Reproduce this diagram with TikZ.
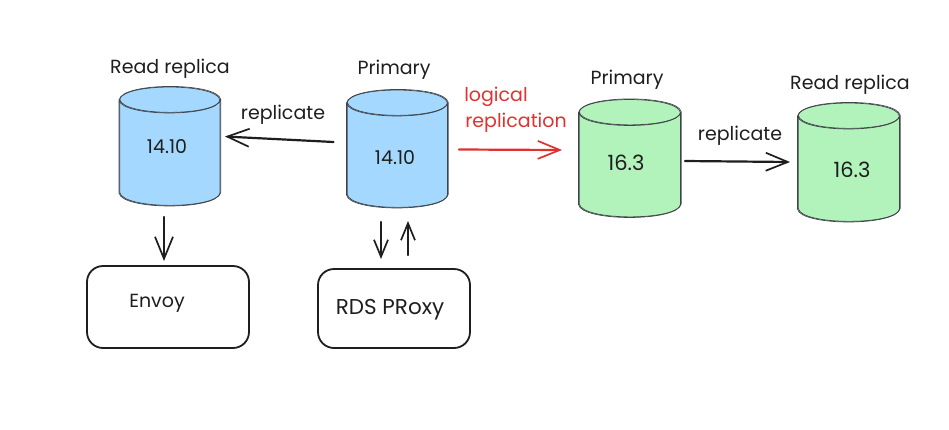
\documentclass[tikz,border=0pt]{standalone}
\usepackage{fontspec}
\setmainfont{Poppins}
\usetikzlibrary{arrows.meta}
\definecolor{inkc}{HTML}{1E1E1E}
\definecolor{linec}{HTML}{3F444A}
\definecolor{bluec}{HTML}{A5D8FF}
\definecolor{greenc}{HTML}{B2F2BB}
\definecolor{redc}{HTML}{E03131}
\tikzset{
  db/.style={inner sep=0pt,outer sep=0pt,minimum height=119pt},
  dbline/.style={draw=linec,line width=0.7pt,line join=round},
  txt/.style={text=inkc,font=\fontsize{19}{22}\selectfont,inner sep=0pt},
  redtxt/.style={txt,text=redc},
  svc/.style={draw=inkc,line width=1.8pt,rounded corners=16pt,inner sep=0pt,outer sep=0pt},
  arrow/.style={draw=inkc,line width=2.2pt,line cap=round,-{Straight Barb[length=22pt,width=18pt,line width=1.7pt]}},
  smallarrow/.style={draw=inkc,line width=2.2pt,line cap=round,-{Straight Barb[length=17pt,width=14pt,line width=1.7pt]}},
  redarrow/.style={arrow,draw=redc}
}
\newcommand{\dbfill}[2]{(0,13) .. controls (3,-4.3) and (#1-3,-4.3) .. (#1,13)
  -- (#1,#2-13) .. controls (#1-3,#2+4.3) and (3,#2+4.3) .. (0,#2-13) -- cycle}
\newcommand{\dbpath}[2]{(0,13) .. controls (3,-4.3) and (#1-3,-4.3) .. (#1,13)
  .. controls (#1-3,30.3) and (3,30.3) .. (0,13)
  -- (0,#2-13) .. controls (3,#2+4.3) and (#1-3,#2+4.3) .. (#1,#2-13) -- (#1,13)}
\newcommand{\dbshape}[4]{
  \begin{scope}[shift={(#1.north west)}]
    \fill[#2] \dbfill{#3}{#4};
    \draw[dbline] \dbpath{#3}{#4};
    \draw[dbline,xshift=0.7pt,yshift=0.6pt] \dbpath{#3}{#4};
  \end{scope}
}
\begin{document}
\begin{tikzpicture}[x=1pt,y=-1pt]
  \useasboundingbox (0,0) rectangle (949,429);
  \draw
    (169.5,146.5) node[db,minimum width=101pt] (old_replica){}
    (397,149.5) node[db,minimum width=101pt] (old_primary){}
    (629.5,159) node[db,minimum width=102pt] (new_primary){}
    (848.5,162.5) node[db,minimum width=102pt] (new_replica){};
  \dbshape{old_replica}{bluec}{101}{119}
  \dbshape{old_primary}{bluec}{101}{118}
  \dbshape{new_primary}{greenc}{102}{118}
  \dbshape{new_replica}{greenc}{102}{119}
  \draw
    (168,307) node[svc,minimum width=162pt,minimum height=82pt] (envoy){}
    (394,308.5) node[svc,minimum width=152pt,minimum height=79pt] (proxy){};
  \draw
    (170,69) node[txt] (l0){Read replica}
    (394,70) node[txt] (l1){Primary}
    (627,80) node[txt] (l2){Primary}
    (850,85) node[txt] (l3){Read replica}
    (167,147) node[txt] (v0){14.10}
    (395,158) node[txt] (v1){14.10}
    (626,163) node[txt,font=\fontsize{21}{24}\selectfont] (v2){16.3}
    (852,170) node[txt,font=\fontsize{21}{24}\selectfont] (v3){16.3}
    (283,115) node[txt] (r0){replicate}
    (740,136) node[txt] (r1){replicate}
    (496,97) node[redtxt] (r2){logical}
    (516,123) node[redtxt] (r3){replication}
    (157,303) node[txt] (e0){Envoy}
    (390,310) node[txt,font=\fontsize{21.5}{24}\selectfont] (p0){RDS PRoxy};
  \begin{scope}
    \draw[arrow] ([xshift=-13pt,yshift=7.5pt]old_primary.west) to ([xshift=5pt,yshift=10pt]old_replica.east);
    \draw[redarrow] ([xshift=11.5pt]old_primary.east) to ([xshift=-16.5pt,yshift=9pt]new_primary.west);
    \draw[arrow] ([xshift=4.5pt,yshift=-2pt]new_primary.east) to ([xshift=-7.5pt,yshift=0.5pt]new_replica.west);
    \draw[arrow] ([xshift=-5.5pt,yshift=-11pt]old_replica.south) to ([xshift=-4pt,yshift=5pt]envoy.north);
    \draw[smallarrow] ([xshift=-16pt,yshift=-13pt]old_primary.south) to ([xshift=-13pt,yshift=10pt]proxy.north);
    \draw[smallarrow] ([xshift=14pt,yshift=14pt]proxy.north) to ([xshift=11pt,yshift=-12pt]old_primary.south);
  \end{scope}
\end{tikzpicture}
\end{document}
